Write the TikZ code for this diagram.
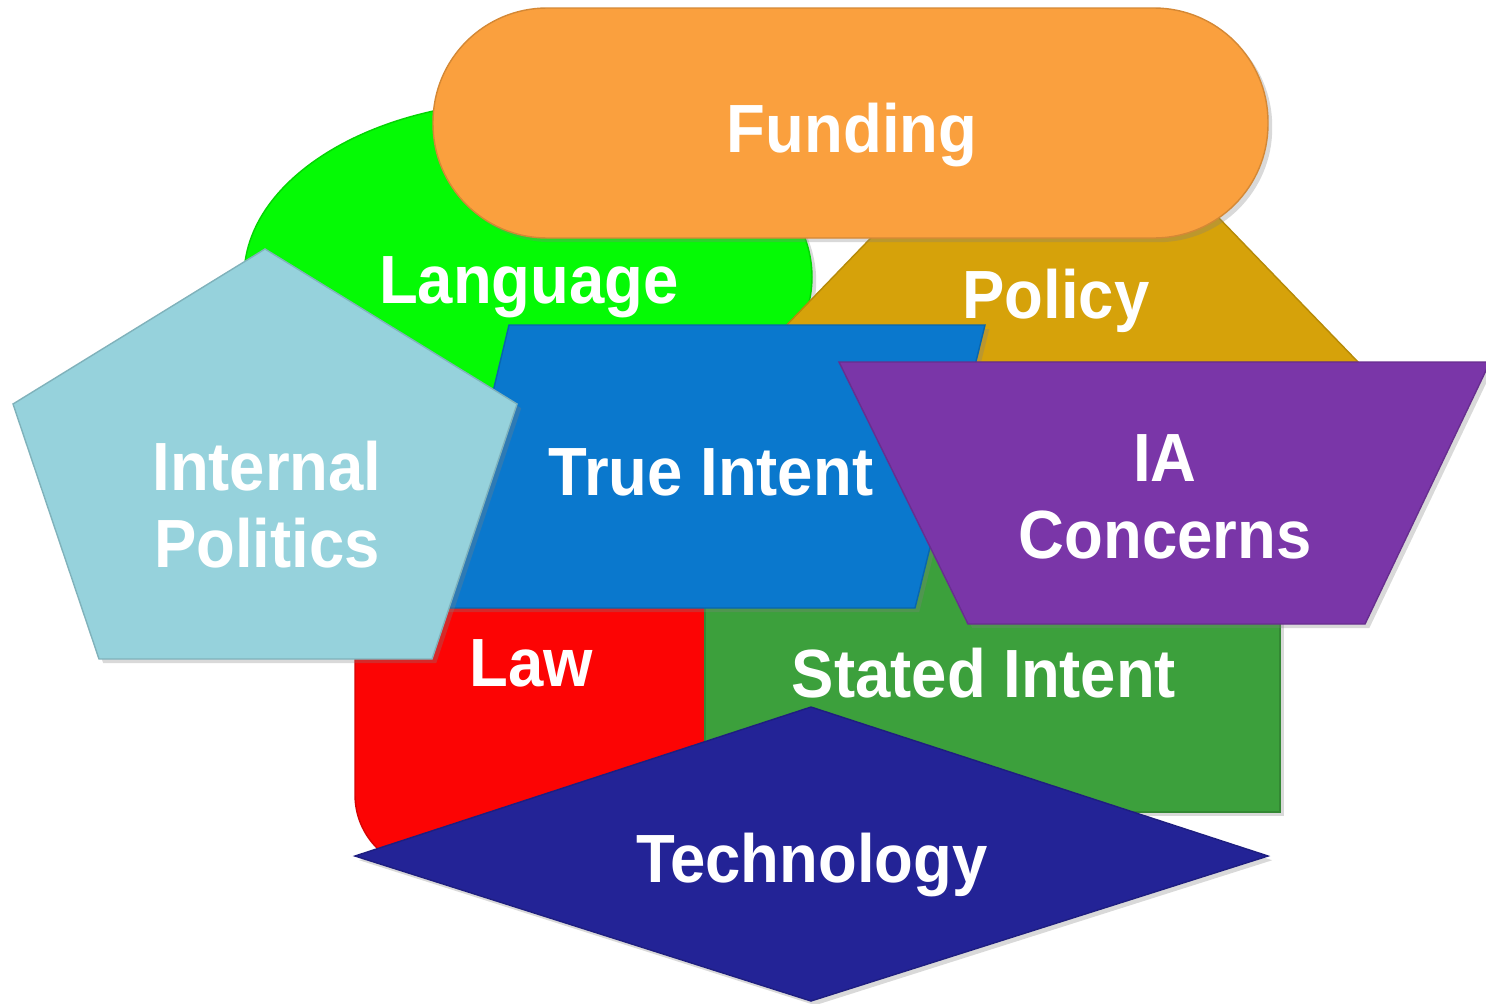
\documentclass[tikz,border=0pt]{standalone}
\usepackage{fontspec}
\newfontfamily\lblfont{Liberation Sans}[FakeStretch=0.93]
\usetikzlibrary{shadows}

\definecolor{fundorange}{RGB}{250,160,62}
\definecolor{langgreen}{RGB}{5,250,5}
\definecolor{policygold}{RGB}{214,162,10}
\definecolor{truetblue}{RGB}{10,120,205}
\definecolor{politicsblue}{RGB}{150,210,220}
\definecolor{iapurple}{RGB}{122,54,168}
\definecolor{lawred}{RGB}{252,4,4}
\definecolor{statedgreen}{RGB}{60,160,60}
\definecolor{technavy}{RGB}{35,35,150}

\tikzset{
  piece/.style={fill=#1,draw=#1!85!black,line width=0.4pt,
    drop shadow={shadow xshift=1.2pt,shadow yshift=-1.2pt,opacity=0.3}},
  lbl/.style={text=white,anchor=base,align=center,inner sep=0pt,
    font=\lblfont\bfseries\fontsize{19.4}{21.8}\selectfont},
}

\begin{document}
\begin{tikzpicture}[x=0.01cm,y=-0.01cm]
  \useasboundingbox (0,0) rectangle (1486,1003);

  % back row
  \path[piece=langgreen] (528,277) ellipse [x radius=284,y radius=176];
  \path[piece=policygold] (893,215) -- (1216,215) -- (1358,362) -- (751,362) -- cycle;
  \path[piece=fundorange,rounded corners=1.14cm] (433,8) rectangle (1268,238);

  % middle row
  \path[piece=lawred] (705,590) -- (355,590) [rounded corners=0.75cm] -- (355,870)
    [sharp corners] -- (705,870) -- cycle;
  \path[piece=statedgreen] (705,520) rectangle (1280,812);
  \path[piece=truetblue] (509,325) -- (985,325) -- (915,608) -- (441,608) -- cycle;

  % front
  \path[piece=politicsblue] (265,249) -- (517,404) -- (432,659) -- (99,659) -- (13,404) -- cycle;
  \path[piece=iapurple] (839,362) -- (1490,362) -- (1365,624) -- (968,624) -- cycle;
  \path[piece=technavy] (355,856) -- (811,707) -- (1268,856) -- (811,1001) -- cycle;

  \node[lbl] (funding) at (852,152) {Funding};
  \node[lbl] (language) at (529,303) {Language};
  \node[lbl] (policy) at (1056,318) {Policy};
  \node[lbl] (trueintent) at (711,495) {True Intent};
  \node[lbl] (politics) at (267,567) {Internal\\Politics};
  \node[lbl] (ia) at (1165,558) {IA\\Concerns};
  \node[lbl] (law) at (531,686) {Law};
  \node[lbl] (stated) at (984,697) {Stated Intent};
  \node[lbl] (technology) at (812,882) {Technology};
\end{tikzpicture}
\end{document}
